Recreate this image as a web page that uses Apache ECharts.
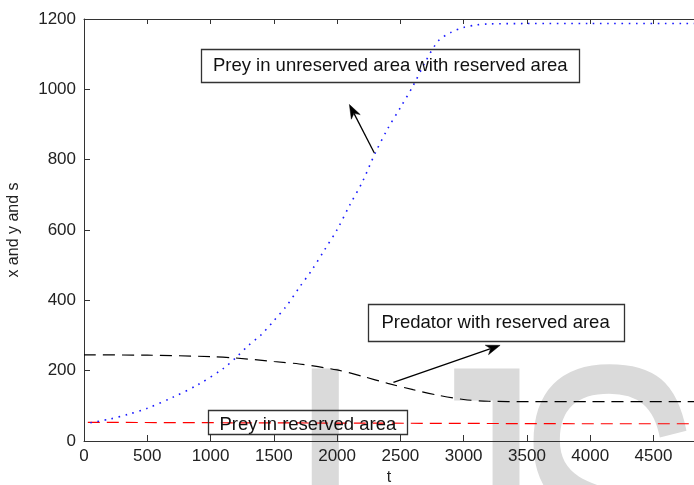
<!DOCTYPE html>
<html>
<head>
<meta charset="utf-8">
<script src="https://cdn.jsdelivr.net/npm/echarts@6/dist/echarts.min.js"></script>
<style>
  html, body { margin: 0; padding: 0; background: #ffffff; }
  #chart { width: 694px; height: 485px; }
</style>
</head>
<body>
<div id="chart"></div>
<script>
// Prey living outside the reserve (x), predator (y) and prey inside the reserve (s)
const preyFreeT = [50, 200, 350, 500, 700, 900, 1100, 1200, 1300, 1400, 1500, 1600, 1700, 1800, 1900, 2000,
                   2100, 2200, 2300, 2400, 2500, 2600, 2700, 2800, 2900, 3000, 3100, 3200, 3500, 4000, 5000];
const preyFreeY = [52, 62, 76, 93, 124, 160, 206, 237, 272, 302, 342, 384, 436, 486, 543, 601,
                   671, 737, 818, 888, 948, 1010, 1080, 1138, 1162, 1176, 1183, 1186, 1187, 1187, 1187];

const predatorT = [0, 500, 1000, 1200, 1500, 1700, 2000, 2200, 2400, 2600, 2800, 3000, 3200, 3500, 4000, 5000];
const predatorY = [245, 244, 240, 236, 226, 219, 202, 184, 164, 146, 130, 118, 113, 112, 112, 112];

const preyReserveT = [30, 1000, 2000, 3000, 4000, 5000];
const preyReserveY = [53, 52, 51, 50, 49, 49];

// axis ranges (the time axis runs past the right edge of the page)
const xTicks = { min: 0, max: 4820, step: 500 };
const yTicks = { min: 0, max: 1200, step: 200 };

// annotation captions
const captions = [
  'Prey in unreserved area with reserved area',
  'Predator with reserved area',
  'Prey in reserved area'
];

const pairs = (ts, vs) => ts.map((t, i) => [t, vs[i]]);

const FONT = '"Liberation Sans", Arial, sans-serif';
const INK = '#222222';
const plain = v => String(v);

const chart = echarts.init(document.getElementById('chart'), null, { renderer: 'canvas' });

const option = {
  animation: false,
  backgroundColor: '#ffffff',
  grid: { left: 84, top: 19, right: 0, bottom: 44, containLabel: false, outerBoundsMode: 'none' },
  xAxis: [
    {
      type: 'value', position: 'bottom',
      min: xTicks.min, max: xTicks.max, interval: xTicks.step,
      name: 't', nameLocation: 'middle', nameGap: 29,
      nameTextStyle: { fontFamily: FONT, fontSize: 16, color: INK },
      axisLine: { show: true, onZero: false, lineStyle: { color: '#333', width: 1 } },
      axisTick: { show: true, inside: true, length: 6, lineStyle: { color: '#333' } },
      axisLabel: { fontFamily: FONT, fontSize: 17, color: INK, margin: 7, formatter: plain, showMaxLabel: false },
      splitLine: { show: false }
    },
    {
      type: 'value', position: 'top',
      min: xTicks.min, max: xTicks.max, interval: xTicks.step,
      axisLine: { show: true, onZero: false, lineStyle: { color: '#333', width: 1 } },
      axisTick: { show: true, inside: true, length: 5, lineStyle: { color: '#333' } },
      axisLabel: { show: false },
      splitLine: { show: false }
    }
  ],
  yAxis: {
    type: 'value',
    min: yTicks.min, max: yTicks.max, interval: yTicks.step,
    name: 'x and y and s', nameLocation: 'middle', nameGap: 62,
    nameTextStyle: { fontFamily: FONT, fontSize: 16, color: INK },
    axisLine: { show: true, onZero: false, lineStyle: { color: '#333', width: 1 } },
    axisTick: { show: true, inside: true, length: 6, lineStyle: { color: '#333' } },
    axisLabel: { fontFamily: FONT, fontSize: 17, color: INK, margin: 8, formatter: plain },
    splitLine: { show: false }
  },
  series: [
    {
      name: 'Prey in reserved area', type: 'line', xAxisIndex: 0,
      data: pairs(preyReserveT, preyReserveY),
      showSymbol: false, smooth: false, z: 3,
      lineStyle: { color: '#ff0000', width: 1.2, type: [12, 7] }
    },
    {
      name: 'Predator with reserved area', type: 'line', xAxisIndex: 0,
      data: pairs(predatorT, predatorY),
      showSymbol: false, smooth: 0.3, z: 3,
      lineStyle: { color: '#000000', width: 1.2, type: [12, 7] }
    },
    {
      name: 'Prey in unreserved area with reserved area', type: 'line', xAxisIndex: 0,
      data: pairs(preyFreeT, preyFreeY),
      showSymbol: false, smooth: 0.3, z: 4,
      lineStyle: { color: '#1a1aff', width: 1.6, type: [1.6, 5.6] }
    }
  ]
};

chart.setOption(option);

// Text boxes and arrows, anchored in data space
const px = (t, v) => chart.convertToPixel({ xAxisIndex: 0, yAxisIndex: 0 }, [t, v]);

const boxes = [
  { text: captions[0], at: [2420, 1068], w: 378, h: 33, ty: 0 },
  { text: captions[1], at: [3252, 337], w: 256, h: 37, ty: 0 },
  { text: captions[2], at: [1769, 55], w: 199, h: 24, ty: 3 }
];

const arrows = [
  { from: [2294, 819], to: [2097, 957] },
  { from: [2445, 167], to: [3288, 272] }
];

function arrowHead(p, q) {
  const dx = q[0] - p[0], dy = q[1] - p[1];
  const len = Math.hypot(dx, dy);
  const ux = dx / len, uy = dy / len;
  const nx = -uy, ny = ux;
  const L = 14, W = 5, notch = 10;
  return [
    [q[0], q[1]],
    [q[0] - ux * L + nx * W, q[1] - uy * L + ny * W],
    [q[0] - ux * notch, q[1] - uy * notch],
    [q[0] - ux * L - nx * W, q[1] - uy * L - ny * W]
  ];
}

const graphics = [];

// light watermark lettering behind the plot, stretched vertically from its cap line
const markFont = 'normal 290px "Liberation Sans", Arial, sans-serif';
const markStretch = 1.45;
[['I', 285], ['J', 396], ['SER', 511]].forEach(([s, x]) => {
  graphics.push({
    type: 'text', z: -10, silent: true,
    x: x, y: 365 + 122 * markStretch, scaleY: markStretch,
    style: { text: s, font: markFont, fill: '#dadada', align: 'left', verticalAlign: 'middle' }
  });
});

boxes.forEach(b => {
  const c = px(b.at[0], b.at[1]);
  graphics.push({
    type: 'rect', z: 20, silent: true,
    shape: { x: Math.round(c[0] - b.w / 2) + 0.5, y: Math.round(c[1] - b.h / 2) + 0.5, width: b.w, height: b.h },
    style: { fill: 'none', stroke: '#333', lineWidth: 1.3 }
  });
  graphics.push({
    type: 'text', z: 21, silent: true,
    x: c[0], y: c[1] + b.ty,
    style: { text: b.text, font: 'normal 18.5px ' + FONT, fill: '#111', align: 'center', verticalAlign: 'middle' }
  });
});

arrows.forEach(a => {
  const p = px(a.from[0], a.from[1]);
  const q = px(a.to[0], a.to[1]);
  const head = arrowHead(p, q);
  graphics.push({
    type: 'line', z: 20, silent: true,
    shape: { x1: p[0], y1: p[1], x2: head[2][0], y2: head[2][1] },
    style: { stroke: '#000', lineWidth: 1.3 }
  });
  graphics.push({
    type: 'polygon', z: 21, silent: true,
    shape: { points: head },
    style: { fill: '#000', stroke: '#000', lineWidth: 0.5 }
  });
});

chart.setOption({ graphic: graphics });
</script>
</body>
</html>
